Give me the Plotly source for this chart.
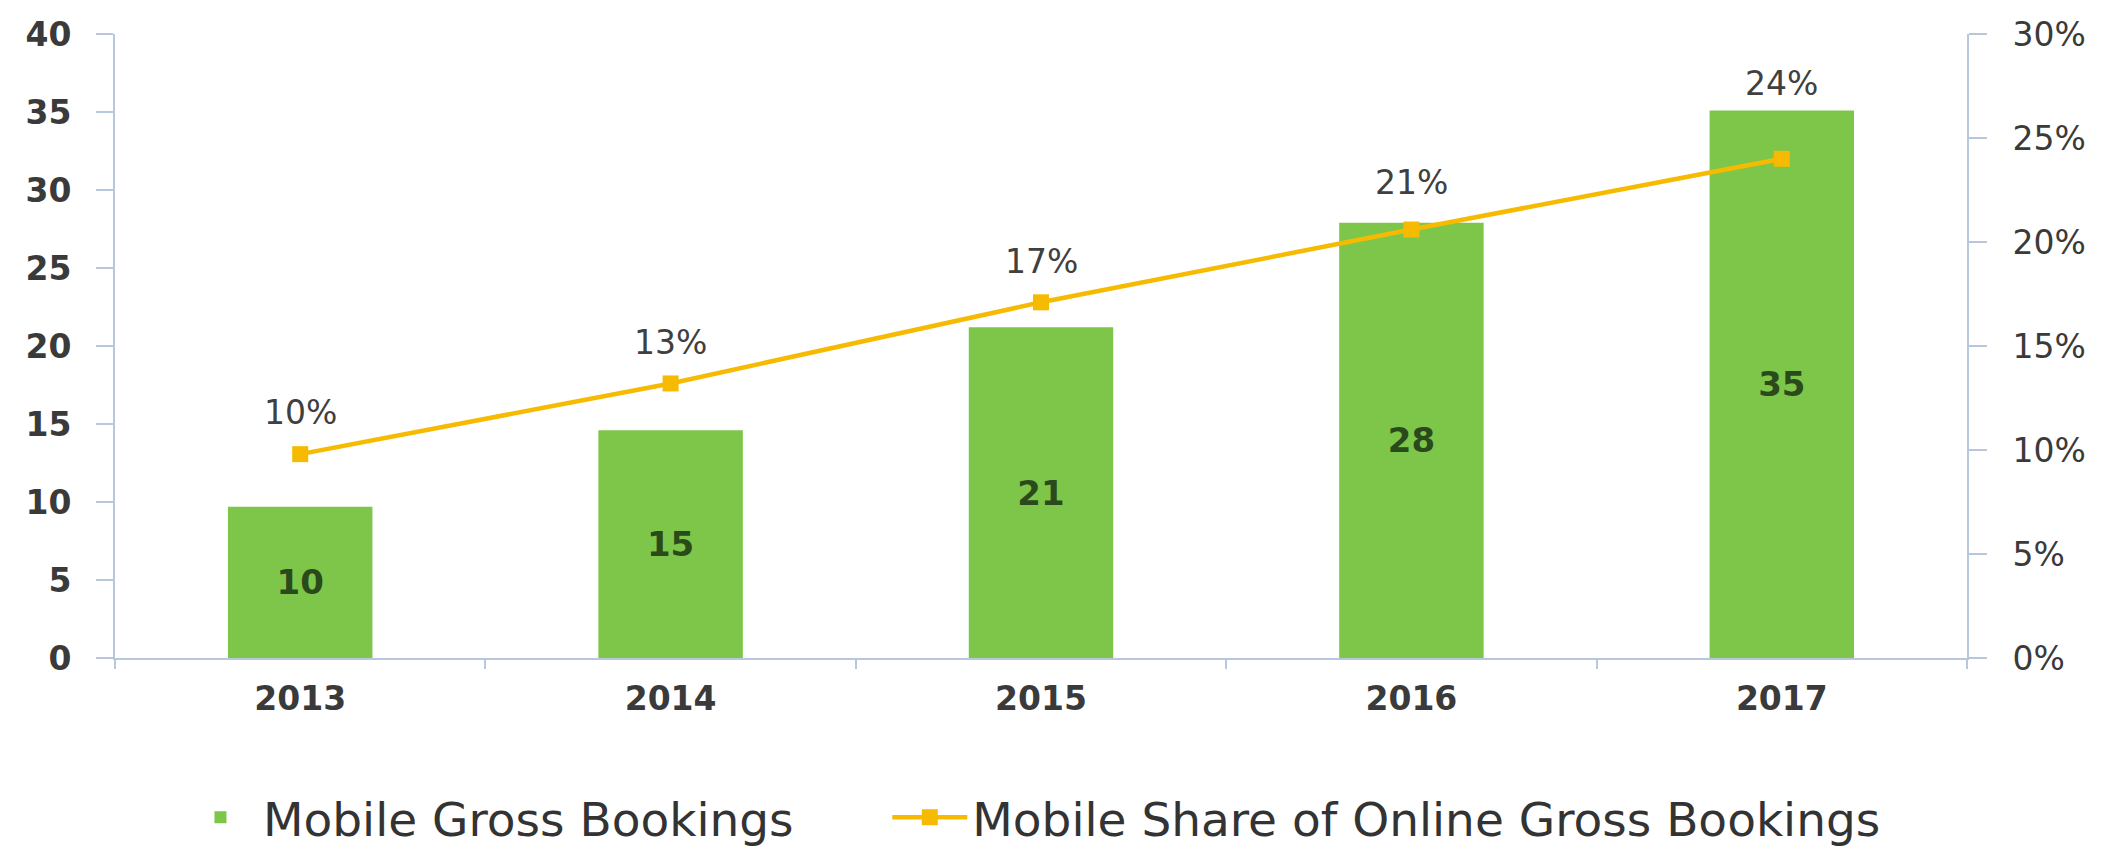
import plotly.graph_objects as go

years = ["2013", "2014", "2015", "2016", "2017"]
mobile_gross_bookings = [9.7, 14.6, 21.2, 27.9, 35.1]
mobile_share = [0.098, 0.132, 0.171, 0.206, 0.240]
left_ticks = [0, 5, 10, 15, 20, 25, 30, 35, 40]
right_ticks = [0, 0.05, 0.10, 0.15, 0.20, 0.25, 0.30]

# label offsets (style only, pixels above the marker)
share_label_shift = [42, 41, 41, 47, 75]

GREEN = "#7DC64A"
GOLD = "#F6BB00"
AXIS = "#B7C8DC"
TXT = "#3A3A3A"
FONT = "DejaVu Sans"

fig = go.Figure()

fig.add_trace(go.Bar(
    x=years, y=mobile_gross_bookings, name="Mobile Gross Bookings",
    marker=dict(color=GREEN, line=dict(width=0)),
    texttemplate="%{y:.0f}", textposition="inside", insidetextanchor="middle",
    textangle=0,
    textfont=dict(family=FONT, size=34, color="#2B4A1B", weight="bold"),
    yaxis="y", legend="legend",
))

fig.add_trace(go.Scatter(
    x=years, y=mobile_share, name="Mobile Share of Online Gross Bookings",
    mode="lines+markers",
    line=dict(color=GOLD, width=4.5),
    marker=dict(symbol="square", size=16, color=GOLD),
    yaxis="y2", legend="legend2",
))

# category axis: annotation x given as category index
for i, (v, s) in enumerate(zip(mobile_share, share_label_shift)):
    fig.add_annotation(
        x=i, y=v, xref="x", yref="y2", text=f"{v:.0%}", showarrow=False,
        yshift=s, font=dict(family=FONT, size=33, color="#404040"),
    )

legend_style = dict(
    orientation="h", xanchor="left", yanchor="middle", y=-0.256,
    font=dict(family=FONT, size=47, color="#333333"),
    itemwidth=75, bgcolor="rgba(0,0,0,0)",
)

fig.update_layout(
    width=2101, height=851,
    margin=dict(l=115, r=134, t=34, b=193, autoexpand=False),
    paper_bgcolor="white", plot_bgcolor="white",
    bargap=0.61,
    showlegend=True,
    legend=dict(x=0.034, **legend_style),
    legend2=dict(x=0.417, **legend_style),
    xaxis=dict(
        type="category", categoryorder="array", categoryarray=years,
        showline=True, linecolor=AXIS, linewidth=2,
        ticks="outside", tickson="boundaries", ticklen=9, tickcolor=AXIS, tickwidth=2,
        tickfont=dict(family=FONT, size=33, color=TXT, weight="bold"),
        tickangle=0,
        ticklabelstandoff=10, showgrid=False, zeroline=False,
    ),
    yaxis=dict(
        range=[0, 40], tickvals=left_ticks, showline=True, linecolor=AXIS, linewidth=2,
        ticks="outside", ticklen=17, tickcolor=AXIS, tickwidth=2,
        tickfont=dict(family=FONT, size=33, color=TXT, weight="bold"),
        ticklabelstandoff=18, showgrid=False, zeroline=False, automargin=False,
    ),
    yaxis2=dict(
        range=[0, 0.30], tickvals=right_ticks, tickformat=".0%", overlaying="y", side="right",
        showline=True, linecolor=AXIS, linewidth=2,
        ticks="outside", ticklen=18, tickcolor=AXIS, tickwidth=2,
        tickfont=dict(family=FONT, size=33, color=TXT),
        ticklabelstandoff=19, showgrid=False, zeroline=False, automargin=False,
    ),
)

fig.write_html(
    "out.html",
    config={"displayModeBar": False},
    post_script="document.body.style.margin='0';document.body.style.overflow='hidden';",
)
